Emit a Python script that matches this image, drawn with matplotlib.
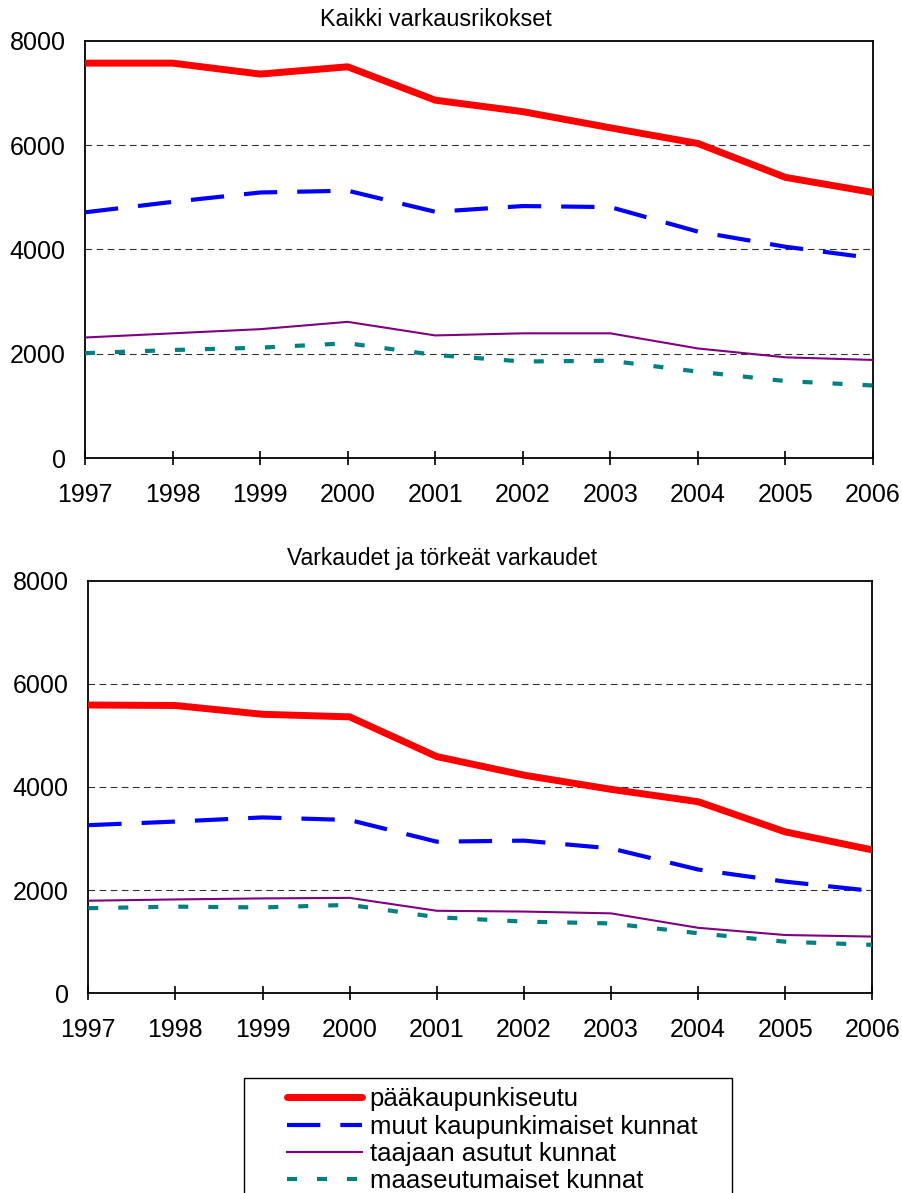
import numpy as np
import matplotlib
matplotlib.use("Agg")
import matplotlib.pyplot as plt
from matplotlib.patches import Rectangle

plt.rcParams['font.family'] = ['Liberation Sans', 'DejaVu Sans']

years = list(range(1997, 2007))

labels = ['pääkaupunkiseutu', 'muut kaupunkimaiset kunnat',
          'taajaan asutut kunnat', 'maaseutumaiset kunnat']

# Kaikki varkausrikokset
all_paakaup = [7570, 7570, 7360, 7500, 6860, 6640, 6330, 6030, 5380, 5090]
all_muut = [4710, 4910, 5090, 5125, 4720, 4830, 4810, 4340, 4050, 3830]
all_taajaan = [2310, 2390, 2470, 2610, 2350, 2390, 2390, 2100, 1930, 1880]
all_maaseutu = [2010, 2070, 2115, 2200, 1975, 1850, 1865, 1655, 1475, 1390]

# Varkaudet ja törkeät varkaudet
vark_paakaup = [5590, 5580, 5410, 5360, 4590, 4230, 3955, 3715, 3130, 2780]
vark_muut = [3260, 3330, 3410, 3360, 2940, 2960, 2810, 2400, 2165, 1985]
vark_taajaan = [1795, 1820, 1840, 1850, 1600, 1585, 1550, 1270, 1130, 1100]
vark_maaseutu = [1650, 1680, 1665, 1715, 1475, 1390, 1355, 1165, 1000, 940]

styles = [
    dict(color='#ff0000', lw=5, solid_capstyle='round'),
    dict(color='#0000ff', lw=3, dashes=(8, 4.8)),
    dict(color='#800080', lw=1.5),
    dict(color='#008080', lw=3, dashes=(2.4, 4.8)),
]

W, H = 903, 1193
fig = plt.figure(figsize=(W / 100, H / 100), dpi=100)


def make_axes(rect, series, title, title_x, title_y, title_size):
    ax = fig.add_axes(rect)
    handles = []
    for vals, st, lab in zip(series, styles, labels):
        h, = ax.plot(years, vals, label=lab, zorder=3, **st)
        handles.append(h)
    ax.set_xlim(1997, 2006)
    ax.set_ylim(0, 8000)
    ax.set_xticks(years)
    ax.set_yticks([0, 2000, 4000, 6000, 8000])
    for y in [2000, 4000, 6000]:
        ax.axhline(y, color='#333333', lw=0.8, dashes=(6, 4), zorder=1)
    for s in ax.spines.values():
        s.set_linewidth(1.3)
    ax.tick_params(axis='x', direction='inout', length=10, width=1.2,
                   labelsize=18, pad=13)
    ax.tick_params(axis='y', length=0, labelsize=18, pad=14)
    fig.text(title_x / W, 1 - title_y / H, title, ha='center', va='center',
             fontsize=title_size)
    return handles


handles = make_axes([85 / W, 1 - 458 / H, 788 / W, 417.3 / H],
                    [all_paakaup, all_muut, all_taajaan, all_maaseutu],
                    'Kaikki varkausrikokset', 436, 19, 16.8)
make_axes([88.3 / W, 1 - 993.3 / H, 784 / W, 412.6 / H],
          [vark_paakaup, vark_muut, vark_taajaan, vark_maaseutu],
          'Varkaudet ja törkeät varkaudet', 442, 558, 16.5)

fig.patches.append(Rectangle((244 / W, -0.05), (732 - 244) / W,
                             (1 - 1078 / H) + 0.05, transform=fig.transFigure,
                             fill=False, edgecolor='black', lw=1.0))

fig.legend(handles=handles, loc='upper left',
           bbox_to_anchor=(277 / W, 1 - 1077 / H), frameon=False,
           fontsize=18.5, handlelength=2.92, handletextpad=0.28,
           labelspacing=0.13, borderaxespad=0.2, borderpad=0.2)

fig.savefig('out.png', dpi=100)
